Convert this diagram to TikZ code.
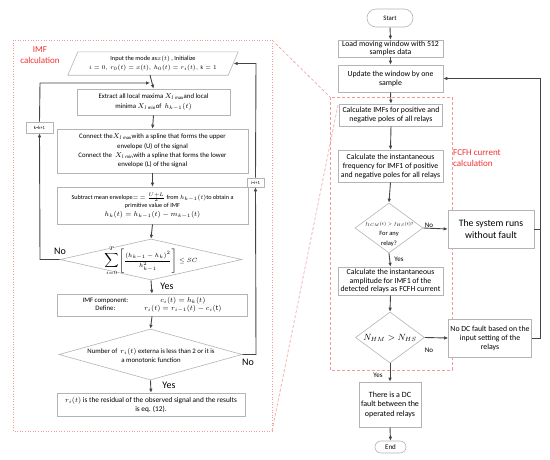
\documentclass[tikz,border=0pt]{standalone}
\usepackage{fontspec}
\usepackage{graphicx}
\setmainfont{Carlito}
\usetikzlibrary{shapes.geometric,arrows.meta,calc}
\definecolor{boxgray}{HTML}{B4B4B4}
\definecolor{linegray}{HTML}{454545}
\definecolor{zoomred}{HTML}{F29A9A}
\definecolor{labred}{HTML}{F03030}
\begin{document}
\begin{tikzpicture}[x=1pt,y=-1pt,
  box/.style={draw=boxgray, line width=0.6pt, fill=white, align=center, inner sep=0.5pt,
    font=\fontsize{6.8}{9}\selectfont},
  rbox/.style={box, font=\fontsize{7.8}{9}\selectfont},
  pill/.style={box, rounded corners=6pt},
  dia/.style={draw=boxgray, line width=0.6pt, fill=white, shape=diamond, inner sep=0pt},
  dtext/.style={align=center, inner sep=0pt, font=\fontsize{6.8}{8.4}\selectfont},
  tiny/.style={box, font=\fontsize{4.6}{5}\selectfont, inner sep=0.3pt},
  conn/.style={draw=linegray, line width=0.9pt},
  arr/.style={conn, -{Latex[length=4pt,width=3.6pt]}},
  lbl/.style={font=\fontsize{10}{11}\selectfont, inner sep=0pt},
  slbl/.style={font=\fontsize{7}{8}\selectfont, inner sep=0pt},
  redtxt/.style={text=labred, align=center, font=\fontsize{9}{11.5}\selectfont, inner sep=0pt},
  zoomline/.style={draw=zoomred, line width=0.6pt}
]
\useasboundingbox (0,0) rectangle (550,459);

% ---------- red zoom frames ----------
\draw[zoomline, dotted] (13,40) rectangle (272,431);
\draw[zoomline, dash pattern=on 3pt off 2pt] (330,97) rectangle (452,370);
\draw[zoomline, dash pattern=on 3pt off 2pt] (272,40) -- (330,97);
\draw[zoomline, dash pattern=on 3pt off 2pt] (272,431) -- (338,105);
\node[redtxt] (imflab) at (40,55) {IMF\\calculation};
\node[redtxt, align=left, anchor=west] (fcfhlab) at (453,158) {FCFH current\\calculation};

% ---------- left flowchart ----------
\node[inner sep=0pt, minimum width=160pt, minimum height=23pt, align=center,
  font=\fontsize{6.3}{9}\selectfont] (input) at (153,63.5)
  {Input the mode as$x(t)$ , Initialize\\ {\fontsize{5.6}{6}\selectfont $i=0,\ r_0(t)=x(t),\ h_0(t)=r_i(t),\ \mathrm{k}=1$}};
\draw[draw=boxgray, line width=0.6pt]
  ($(input.south west)+(-5,0)$) -- ($(input.north west)+(5,0)$) --
  ($(input.north east)+(5,0)$) -- ($(input.south east)+(-5,0)$) -- cycle;
\coordinate (inright) at ($(input.east)+(0.5,0)$);
\coordinate (inbot) at (150,75);

\node[box, minimum width=153pt, minimum height=26pt, font=\fontsize{6.8}{10}\selectfont] (extract) at (153.5,102)
  {Extract all local maxima $X_{l\max}$and local\\ minima $X_{l\min}$of \ $h_{k-1}(t)$};
\node[box, minimum width=191pt, minimum height=44pt, font=\fontsize{6.8}{9.3}\selectfont] (connect) at (152.5,151)
  {Connect the$X_{l\max}$with a spline that forms the upper\\ envelope (U) of the signal\\
   Connect the \ $X_{l\min}$with a spline that forms the lower\\ envelope (L) of the signal};
\node[box, minimum width=191pt, minimum height=37pt, font=\fontsize{6.2}{8.4}\selectfont] (subtract) at (152.5,205.5)
  {Subtract mean envelope$=$ $=\frac{U+L}{2}$ from $h_{k-1}(t)$to obtain a\\ primitive value of IMF\\
   {\fontsize{7.4}{8}\selectfont $h_k(t)=h_{k-1}(t)-m_{k-1}(t)$}};
\node[dia, minimum width=182pt, minimum height=41pt] (sc) at (151,259.5) {};
\node[dtext, font=\fontsize{5.6}{6}\selectfont] (sctxt) at (151,261)
  {$\displaystyle\sum_{i=0}^{T}\!\left[\frac{(h_{k-1}-h_k)^2}{h_{k-1}^2}\right]\le SC$};
\node[box, minimum width=190pt, minimum height=22pt, inner sep=0pt] (imfc) at (152,305)
  {\renewcommand{\arraystretch}{0.85}%
   \begin{tabular}{@{}c@{\hspace{16pt}}c@{}}
   IMF component: & {\fontsize{7.4}{8}\selectfont $c_i(t)=h_k(t)$}\\
   Define: & {\fontsize{7.4}{8}\selectfont $r_i(t)=r_{i-1}(t)-c_i(\mathrm{t})$}
   \end{tabular}};
\node[dia, minimum width=183pt, minimum height=51pt] (mono) at (150.5,354.5) {};
\node[dtext, font=\fontsize{6.8}{9}\selectfont] (monotxt) at (151,355)
  {Number of \ $r_i(t)$ externa is less than 2 or it is\\ a monotonic function};
\node[box, minimum width=188pt, minimum height=23pt, font=\fontsize{7.3}{9}\selectfont] (final) at (151,404.5)
  {$r_i(t)$ is the residual of the observed signal and the results\\ is eq. (12).};
\node[tiny, minimum width=27pt, minimum height=11pt] (kbox) at (39.5,127.5) {k=k+1};
\node[tiny, minimum width=17pt, minimum height=9pt] (ibox) at (255.5,182.5) {i=i+1};

\draw[arr] (inbot) -- (extract.north);
\draw[arr] (extract.south) -- (connect.north);
\draw[arr] (connect.south) -- (subtract.north);
\draw[arr] (subtract.south) -- (sc.north);
\draw[arr] (sc.south) -- (imfc.north);
\draw[arr] (imfc.south) -- (mono.north);
\draw[arr] (mono.south) -- (final.north);
\coordinate (lj) at (40,259.5);
\coordinate (lt) at (40,83);
\coordinate (jn) at (150,83);
\draw[arr] (sc.west) -- (lj) -- (kbox.south);
\draw[arr] (kbox.north) -- (lt) -- (jn);
\coordinate (rj) at (256,354.5);
\coordinate (rt) at (256,63.5);
\draw[arr] (mono.east) -- (rj) -- (ibox.south);
\draw[arr] (ibox.north) -- (rt) -- (inright);
\node[lbl] (no1) at (60,251) {No};
\node[lbl] (yes1) at (167,286) {Yes};
\node[lbl] (no2) at (248,362) {No};
\node[lbl] (yes2) at (169,385) {Yes};

% ---------- right flowchart ----------
\node[pill, minimum width=46pt, minimum height=18pt, rounded corners=9pt] (start) at (390,18) {Start};
\node[rbox, minimum width=105pt, minimum height=17pt, font=\fontsize{7.8}{8.6}\selectfont] (load) at (390.5,48.5)
  {Load moving window with 512\\ samples data};
\node[rbox, minimum width=105pt, minimum height=27pt] (update) at (390.5,78.5)
  {Update the window by one\\ sample};
\node[rbox, minimum width=103pt, minimum height=22pt] (imfs) at (391,115)
  {Calculate IMFs for positive and\\ negative poles of all relays};
\node[rbox, minimum width=105pt, minimum height=32pt] (freq) at (390.5,166)
  {Calculate the instantaneous\\ frequency for IMF1 of positive\\ and negative poles for all relays};
\node[dia, minimum width=68pt, minimum height=50pt] (d1) at (389,228) {};
\node[dtext, font=\fontsize{6.5}{10}\selectfont] (d1txt) at (389,234)
  {\scalebox{0.75}{\fontsize{6}{7}\selectfont $f_{ICM}(t)>f_{HS}(t)$?}\\ For any\\ relay?};
\node[box, minimum width=86pt, minimum height=38pt, font=\fontsize{9.8}{12}\selectfont] (sys) at (491,229)
  {The system runs\\ without fault};
\node[rbox, minimum width=105pt, minimum height=28pt, font=\fontsize{7.8}{8.6}\selectfont] (amp) at (390.5,281)
  {Calculate the instantaneous\\ amplitude for IMF1 of the\\ detected relays as FCFH current};
\node[dia, minimum width=69pt, minimum height=51pt] (d2) at (390,337.5) {};
\node[dtext, font=\fontsize{8.8}{10}\selectfont] (d2txt) at (390,337.5) {$N_{HM}>N_{HS}$};
\node[rbox, minimum width=83pt, minimum height=38pt] (nodc) at (490,338)
  {No DC fault based on the\\ input setting of the\\ relays};
\node[rbox, minimum width=62pt, minimum height=45pt, font=\fontsize{8}{9.6}\selectfont] (dc) at (390,404.5)
  {There is a DC\\ fault between the\\ operated relays};
\node[pill, minimum width=31pt, minimum height=12pt, font=\fontsize{7}{8}\selectfont] (end) at (390.5,447) {End};

\draw[arr] (start.south) -- (load.north);
\draw[arr] (load.south) -- (update.north);
\draw[arr] (update.south) -- (imfs.north);
\draw[arr] (imfs.south) -- (freq.north);
\draw[arr] (freq.south) -- (d1.north);
\draw[arr] (d1.south) -- (amp.north);
\draw[arr] (amp.south) -- (d2.north);
\draw[arr] (d2.south) -- (dc.north);
\draw[arr] (dc.south) -- (end.north);
\draw[arr] (d1.east) -- (sys.west);
\draw[arr] (d2.east) -- (nodc.west);
\coordinate (rl1) at (540,229);
\coordinate (rl2) at (540,338);
\coordinate (rl3) at (540,78.5);
\draw[conn] (sys.east) -- (rl1);
\draw[arr] (nodc.east) -- (rl2) -- (rl3) -- (update.east);
\node[slbl] (no3) at (429,225) {No};
\node[slbl] (yes3) at (399,259) {Yes};
\node[slbl] (no4) at (429,350) {No};
\node[slbl] (yes4) at (378,375) {Yes};
\end{tikzpicture}
\end{document}
